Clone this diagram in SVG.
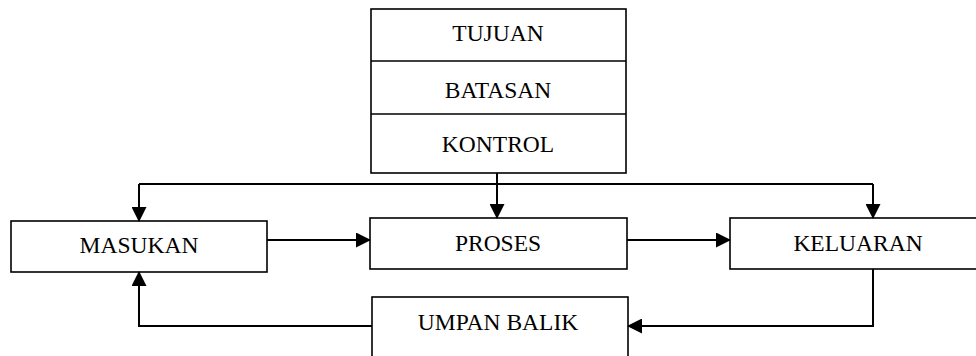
<svg xmlns="http://www.w3.org/2000/svg" width="976" height="356" viewBox="0 0 976 356">
<style>
.box{fill:#fff;stroke:#000;stroke-width:1.6}
.lbl{font-family:"Liberation Serif","Times New Roman",serif;font-size:23.5px;fill:#000;text-anchor:middle}
.con{fill:none;stroke:#000;stroke-width:2}
</style>
<defs>
<marker id="ah" markerWidth="15" markerHeight="15" refX="14" refY="7.5" orient="auto" markerUnits="userSpaceOnUse">
<path d="M0,0 L15,7.5 L0,15 Z" fill="#000"/>
</marker>
</defs>
<rect width="976" height="356" fill="#fff"/>
<g id="kontrol-stack">
<rect class="box" x="371" y="9" width="255" height="164"/>
<line class="box" x1="371" y1="61" x2="626" y2="61"/>
<line class="box" x1="371" y1="114" x2="626" y2="114"/>
<text class="lbl" x="498" y="41">TUJUAN</text>
<text class="lbl" x="498" y="98">BATASAN</text>
<text class="lbl" x="498" y="152">KONTROL</text>
</g>
<g id="masukan">
<rect class="box" x="11" y="221" width="256" height="51"/>
<text class="lbl" x="139" y="253">MASUKAN</text>
</g>
<g id="proses">
<rect class="box" x="370" y="218" width="257" height="51"/>
<text class="lbl" x="498" y="251">PROSES</text>
</g>
<g id="keluaran">
<rect class="box" x="730" y="218" width="260" height="51"/>
<text class="lbl" x="858" y="251">KELUARAN</text>
</g>
<g id="umpan-balik">
<rect class="box" x="372" y="297" width="256" height="70"/>
<text class="lbl" x="498" y="330">UMPAN BALIK</text>
</g>
<g id="connectors">
<polyline class="con" points="139,184 873,184"/>
<line class="con" x1="139" y1="184" x2="139" y2="221" marker-end="url(#ah)"/>
<line class="con" x1="873" y1="184" x2="873" y2="218" marker-end="url(#ah)"/>
<line class="con" x1="497" y1="173" x2="497" y2="218" marker-end="url(#ah)"/>
<line class="con" x1="267" y1="240" x2="370" y2="240" marker-end="url(#ah)"/>
<line class="con" x1="627" y1="240" x2="730" y2="240" marker-end="url(#ah)"/>
<polyline class="con" points="873,269 873,326 628,326" marker-end="url(#ah)"/>
<polyline class="con" points="372,326 139,326 139,272" marker-end="url(#ah)"/>
</g>
</svg>
